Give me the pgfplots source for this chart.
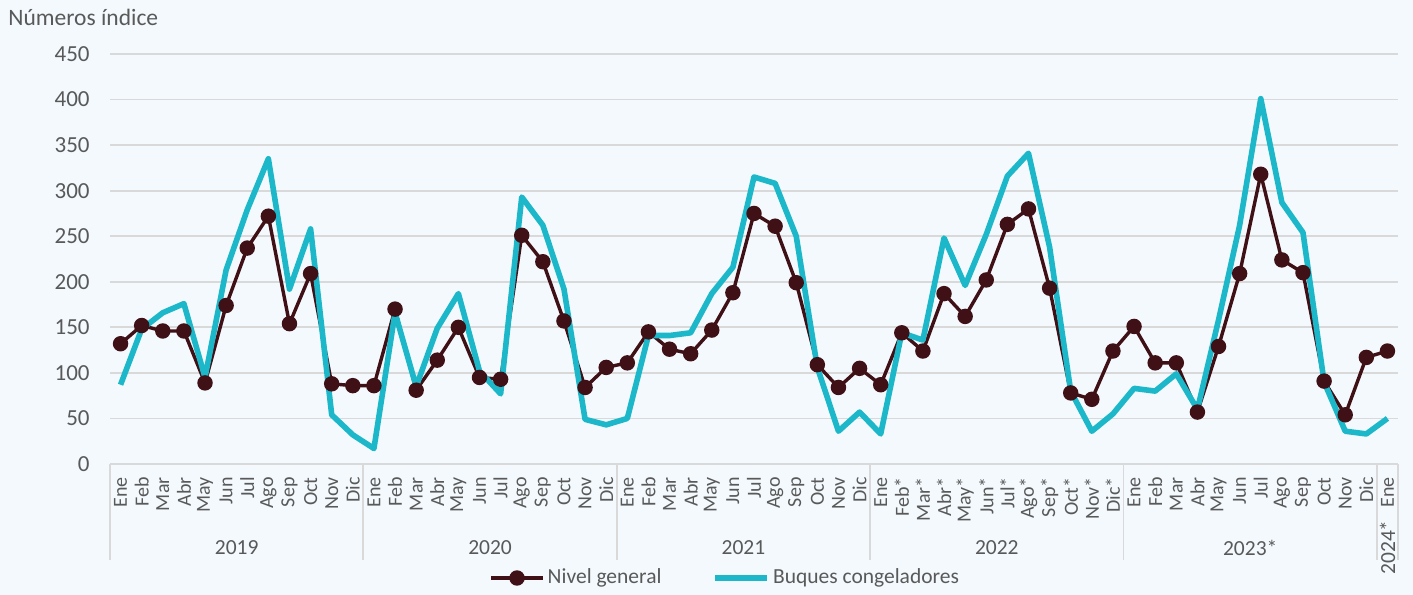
\documentclass[border=0pt]{standalone}
\usepackage{pgfplots}
\usepackage{pgfplotstable}
\usepackage{fontspec}
\setmainfont{Carlito}
\pgfplotsset{compat=1.18}
\definecolor{bg}{HTML}{F3F9FD}
\definecolor{niv}{HTML}{3F1016}
\definecolor{buq}{HTML}{1CB8CA}
\definecolor{txt}{HTML}{595959}
\definecolor{grd}{HTML}{D9D9D9}
\pgfplotstableread{
idx nivel buques
0 132 87
1 152 148
2 146 166
3 146 176
4 89 95
5 174 213
6 237 279
7 272 335
8 154 192
9 209 258
10 88 54
11 86 32
12 86 17
13 170 166
14 81 85
15 114 149
16 150 187
17 95 102
18 93 77
19 251 293
20 222 262
21 157 192
22 84 49
23 106 43
24 111 50
25 145 141
26 126 141
27 121 144
28 147 187
29 188 216
30 275 315
31 261 308
32 199 250
33 109 106
34 84 36
35 105 57
36 87 33
37 144 144
38 124 136
39 187 248
40 162 196
41 202 252
42 263 316
43 280 341
44 193 238
45 78 80
46 71 36
47 124 55
48 151 83
49 111 80
50 111 99
51 57 60
52 129 158
53 209 262
54 318 401
55 224 287
56 210 254
57 91 90
58 54 36
59 117 33
60 124 50
}\datatable
\begin{document}
\begin{tikzpicture}
\path[use as bounding box] (-55bp,-65.5bp) rectangle (651.5bp,232bp);
\fill[bg] (-55bp,-65.5bp) rectangle (651.5bp,232bp);
\node[anchor=base west, text=txt, font=\fontsize{11.75bp}{14bp}\selectfont, inner sep=0pt] at (-51bp,219bp) {Números índice};
\begin{axis}[
  at={(0,0)}, anchor=south west,
  scale only axis, width=644bp, height=205bp,
  xmin=-0.5, xmax=60.5, ymin=0, ymax=450,
  ytick={0,50,...,450},
  xtick={0,...,60},
  xticklabels={Ene,Feb,Mar,Abr,May,Jun,Jul,Ago,Sep,Oct,Nov,Dic,
               Ene,Feb,Mar,Abr,May,Jun,Jul,Ago,Sep,Oct,Nov,Dic,
               Ene,Feb,Mar,Abr,May,Jun,Jul,Ago,Sep,Oct,Nov,Dic,
               Ene,Feb*,Mar*,Abr*,May*,Jun*,Jul*,Ago*,Sep*,Oct*,Nov*,Dic*,
               Ene,Feb,Mar,Abr,May,Jun,Jul,Ago,Sep,Oct,Nov,Dic,
               Ene},
  major tick length=0pt,
  axis line style={draw=none},
  ymajorgrids, grid style={grd, line width=0.9bp},
  /pgf/number format/assume math mode=true,
  yticklabel style={text=txt, font=\fontsize{11.5bp}{13bp}\selectfont, inner sep=0pt, anchor=east, xshift=-10bp},
  xticklabel style={text=txt, font=\fontsize{10bp}{11bp}\selectfont, rotate=90, anchor=east, inner sep=0pt, xshift=-6.5bp},
  clip=false,
  legend columns=2,
  legend style={at={(0.478,-57bp)}, anchor=center, draw=none, fill=none,
    font=\fontsize{10.75bp}{12bp}\selectfont, text=txt,
    nodes={inner xsep=1.5bp},
    /tikz/every even column/.append style={column sep=24bp}},
  legend cell align=left,
  legend image code/.code={\draw[mark repeat=2,mark phase=2,#1] plot coordinates {(0bp,0bp) (13bp,0bp) (26bp,0bp)};},
]
\addplot[niv, line width=1.7bp, mark=*, mark size=3bp, mark options={solid, fill=niv}] table[x=idx, y=nivel] {\datatable};
\addlegendentry{Nivel general}
\addplot[buq, line width=2.8bp, no marks, line join=round] table[x=idx, y=buques] {\datatable};
\addlegendentry{Buques congeladores}
\pgfplotsinvokeforeach{-0.5,11.5,23.5,35.5,47.5,59.5,60.5}{
  \draw[grd, line width=0.9bp] (axis cs:#1,0) -- ++(0bp,-48bp);
}
\node[text=txt, font=\fontsize{10.75bp}{12bp}\selectfont] at ([yshift=-42bp]axis cs:5.5,0) {2019};
\node[text=txt, font=\fontsize{10.75bp}{12bp}\selectfont] at ([yshift=-42bp]axis cs:17.5,0) {2020};
\node[text=txt, font=\fontsize{10.75bp}{12bp}\selectfont] at ([yshift=-42bp]axis cs:29.5,0) {2021};
\node[text=txt, font=\fontsize{10.75bp}{12bp}\selectfont] at ([yshift=-42bp]axis cs:41.5,0) {2022};
\node[text=txt, font=\fontsize{10.75bp}{12bp}\selectfont] at ([yshift=-42bp]axis cs:53.5,0) {2023*};
\node[text=txt, font=\fontsize{10.75bp}{12bp}\selectfont, rotate=90, anchor=east, inner sep=0pt] at ([yshift=-28bp]axis cs:60,0) {2024*};
\end{axis}
\end{tikzpicture}
\end{document}
